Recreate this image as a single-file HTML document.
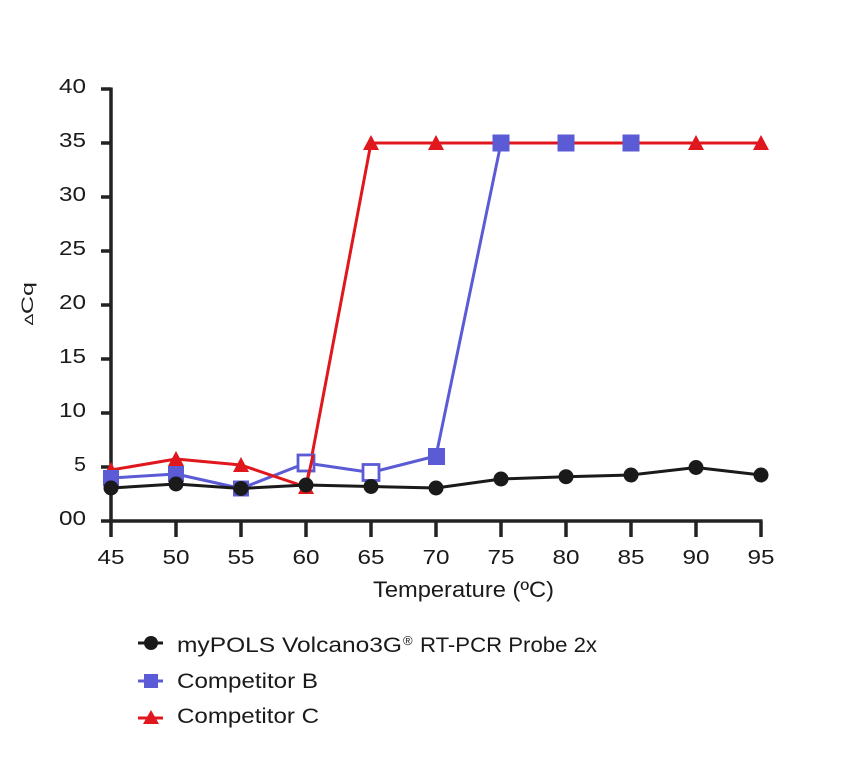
<!DOCTYPE html>
<html><head><meta charset="utf-8"><style>
html,body{margin:0;padding:0;background:#fff;}
svg{display:block;}
text{font-family:"Liberation Sans",sans-serif;fill:#1a1a1a;}
</style></head><body>
<svg width="849" height="757" viewBox="0 0 849 757" xmlns="http://www.w3.org/2000/svg">
<!-- axes -->
<g stroke="#222" stroke-width="3.5" fill="none">
<line x1="111" y1="87.5" x2="111" y2="537"/>
<line x1="109" y1="521" x2="762.5" y2="521"/>
<line x1="101" y1="89" x2="111" y2="89"/>
<line x1="101" y1="143" x2="111" y2="143"/>
<line x1="101" y1="197" x2="111" y2="197"/>
<line x1="101" y1="251" x2="111" y2="251"/>
<line x1="101" y1="305" x2="111" y2="305"/>
<line x1="101" y1="359" x2="111" y2="359"/>
<line x1="101" y1="413" x2="111" y2="413"/>
<line x1="101" y1="467" x2="111" y2="467"/>
<line x1="101" y1="521" x2="111" y2="521"/>
<line x1="176" y1="521" x2="176" y2="537"/>
<line x1="241" y1="521" x2="241" y2="537"/>
<line x1="306" y1="521" x2="306" y2="537"/>
<line x1="371" y1="521" x2="371" y2="537"/>
<line x1="436" y1="521" x2="436" y2="537"/>
<line x1="501" y1="521" x2="501" y2="537"/>
<line x1="566" y1="521" x2="566" y2="537"/>
<line x1="631" y1="521" x2="631" y2="537"/>
<line x1="696" y1="521" x2="696" y2="537"/>
<line x1="761" y1="521" x2="761" y2="537"/>
</g>
<!-- y labels -->
<g font-size="20" text-anchor="end">
<text x="86" y="93" textLength="27" lengthAdjust="spacingAndGlyphs">40</text>
<text x="86" y="147" textLength="27" lengthAdjust="spacingAndGlyphs">35</text>
<text x="86" y="201" textLength="27" lengthAdjust="spacingAndGlyphs">30</text>
<text x="86" y="255" textLength="27" lengthAdjust="spacingAndGlyphs">25</text>
<text x="86" y="309" textLength="27" lengthAdjust="spacingAndGlyphs">20</text>
<text x="86" y="363" textLength="27" lengthAdjust="spacingAndGlyphs">15</text>
<text x="86" y="417" textLength="27" lengthAdjust="spacingAndGlyphs">10</text>
<text x="86" y="471" textLength="12" lengthAdjust="spacingAndGlyphs">5</text>
<text x="86" y="525" textLength="27" lengthAdjust="spacingAndGlyphs">00</text>
</g>
<!-- x labels -->
<g font-size="20" text-anchor="middle">
<text x="111" y="564" textLength="27" lengthAdjust="spacingAndGlyphs">45</text>
<text x="176" y="564" textLength="27" lengthAdjust="spacingAndGlyphs">50</text>
<text x="241" y="564" textLength="27" lengthAdjust="spacingAndGlyphs">55</text>
<text x="306" y="564" textLength="27" lengthAdjust="spacingAndGlyphs">60</text>
<text x="371" y="564" textLength="27" lengthAdjust="spacingAndGlyphs">65</text>
<text x="436" y="564" textLength="27" lengthAdjust="spacingAndGlyphs">70</text>
<text x="501" y="564" textLength="27" lengthAdjust="spacingAndGlyphs">75</text>
<text x="566" y="564" textLength="27" lengthAdjust="spacingAndGlyphs">80</text>
<text x="631" y="564" textLength="27" lengthAdjust="spacingAndGlyphs">85</text>
<text x="696" y="564" textLength="27" lengthAdjust="spacingAndGlyphs">90</text>
<text x="761" y="564" textLength="27" lengthAdjust="spacingAndGlyphs">95</text>
</g>
<text x="373" y="597" font-size="22" textLength="181" lengthAdjust="spacingAndGlyphs">Temperature (ºC)</text>
<text transform="translate(33,325) rotate(-90)" font-size="17" textLength="43" lengthAdjust="spacingAndGlyphs"><tspan font-size="12">∆</tspan>Cq</text>

<!-- blue line -->
<polyline fill="none" stroke="#5b5bd6" stroke-width="3" stroke-linejoin="round" points="111,478 176,474 241,488.5 306,463 371,472.5 436,456 501,143 566,143 631,143"/>
<!-- red line -->
<polyline fill="none" stroke="#e0171c" stroke-width="3" stroke-linejoin="round" points="111,470 176,459 241,465 306,487 371,143 436,143 501,143 566,143 631,143 696,143 761,143"/>
<g fill="#e0171c">
<path d="M111,462 L119,477 L103,477 Z"/>
<path d="M176,451 L184,466 L168,466 Z"/>
<path d="M241,457 L249,472 L233,472 Z"/>
<path d="M306,479 L314,494 L298,494 Z"/>
<path d="M371,135 L379,150 L363,150 Z"/>
<path d="M436,135 L444,150 L428,150 Z"/>
<path d="M501,135 L509,150 L493,150 Z"/>
<path d="M566,135 L574,150 L558,150 Z"/>
<path d="M631,135 L639,150 L623,150 Z"/>
<path d="M696,135 L704,150 L688,150 Z"/>
<path d="M761,135 L769,150 L753,150 Z"/>
</g>
<g fill="#5b5bd6">
<rect x="103" y="470" width="16" height="16"/>
<rect x="168" y="466" width="16" height="16"/>
<rect x="233" y="480.5" width="16" height="16"/>
<rect x="428" y="448" width="17" height="17"/>
<rect x="492.5" y="134.5" width="17" height="17"/>
<rect x="557.5" y="134.5" width="17" height="17"/>
<rect x="622.5" y="134.5" width="17" height="17"/>
</g>
<g fill="#fff" stroke="#5b5bd6" stroke-width="2.8">
<rect x="298" y="455" width="16" height="16"/>
<rect x="363" y="464.5" width="16" height="16"/>
</g>
<polyline fill="none" stroke="#e0171c" stroke-width="3" points="300,484 306,487 313,455"/>
<!-- black line -->
<polyline fill="none" stroke="#1a1a1a" stroke-width="3" stroke-linejoin="round" points="111,488 176,484 241,488.5 306,485 371,486.5 436,488 501,479 566,476.7 631,475 696,467.5 761,475"/>
<g fill="#1a1a1a">
<circle cx="111" cy="488" r="7.5"/>
<circle cx="176" cy="484" r="7.5"/>
<circle cx="241" cy="488.5" r="7.5"/>
<circle cx="306" cy="485" r="7.5"/>
<circle cx="371" cy="486.5" r="7.5"/>
<circle cx="436" cy="488" r="7.5"/>
<circle cx="501" cy="479" r="7.5"/>
<circle cx="566" cy="476.7" r="7.5"/>
<circle cx="631" cy="475" r="7.5"/>
<circle cx="696" cy="467.5" r="7.5"/>
<circle cx="761" cy="475" r="7.5"/>
</g>

<!-- legend -->
<line x1="138" y1="643" x2="163" y2="643" stroke="#1a1a1a" stroke-width="3"/>
<circle cx="151" cy="643" r="7" fill="#1a1a1a"/>
<line x1="138" y1="681" x2="163" y2="681" stroke="#5b5bd6" stroke-width="3"/>
<rect x="144" y="674" width="14" height="14" fill="#5b5bd6"/>
<line x1="138" y1="718" x2="163" y2="718" stroke="#e0171c" stroke-width="3"/>
<path d="M151,710 L159,724 L143,724 Z" fill="#e0171c"/>
<g font-size="21">
<text x="177" y="652" textLength="225" lengthAdjust="spacingAndGlyphs">myPOLS Volcano3G</text>
<text x="403" y="645" font-size="13">®</text>
<text x="420" y="652" textLength="177" lengthAdjust="spacingAndGlyphs">RT-PCR Probe 2x</text>
<text x="177" y="688" textLength="141" lengthAdjust="spacingAndGlyphs">Competitor B</text>
<text x="177" y="723" textLength="142" lengthAdjust="spacingAndGlyphs">Competitor C</text>
</g>
</svg>
</body></html>
